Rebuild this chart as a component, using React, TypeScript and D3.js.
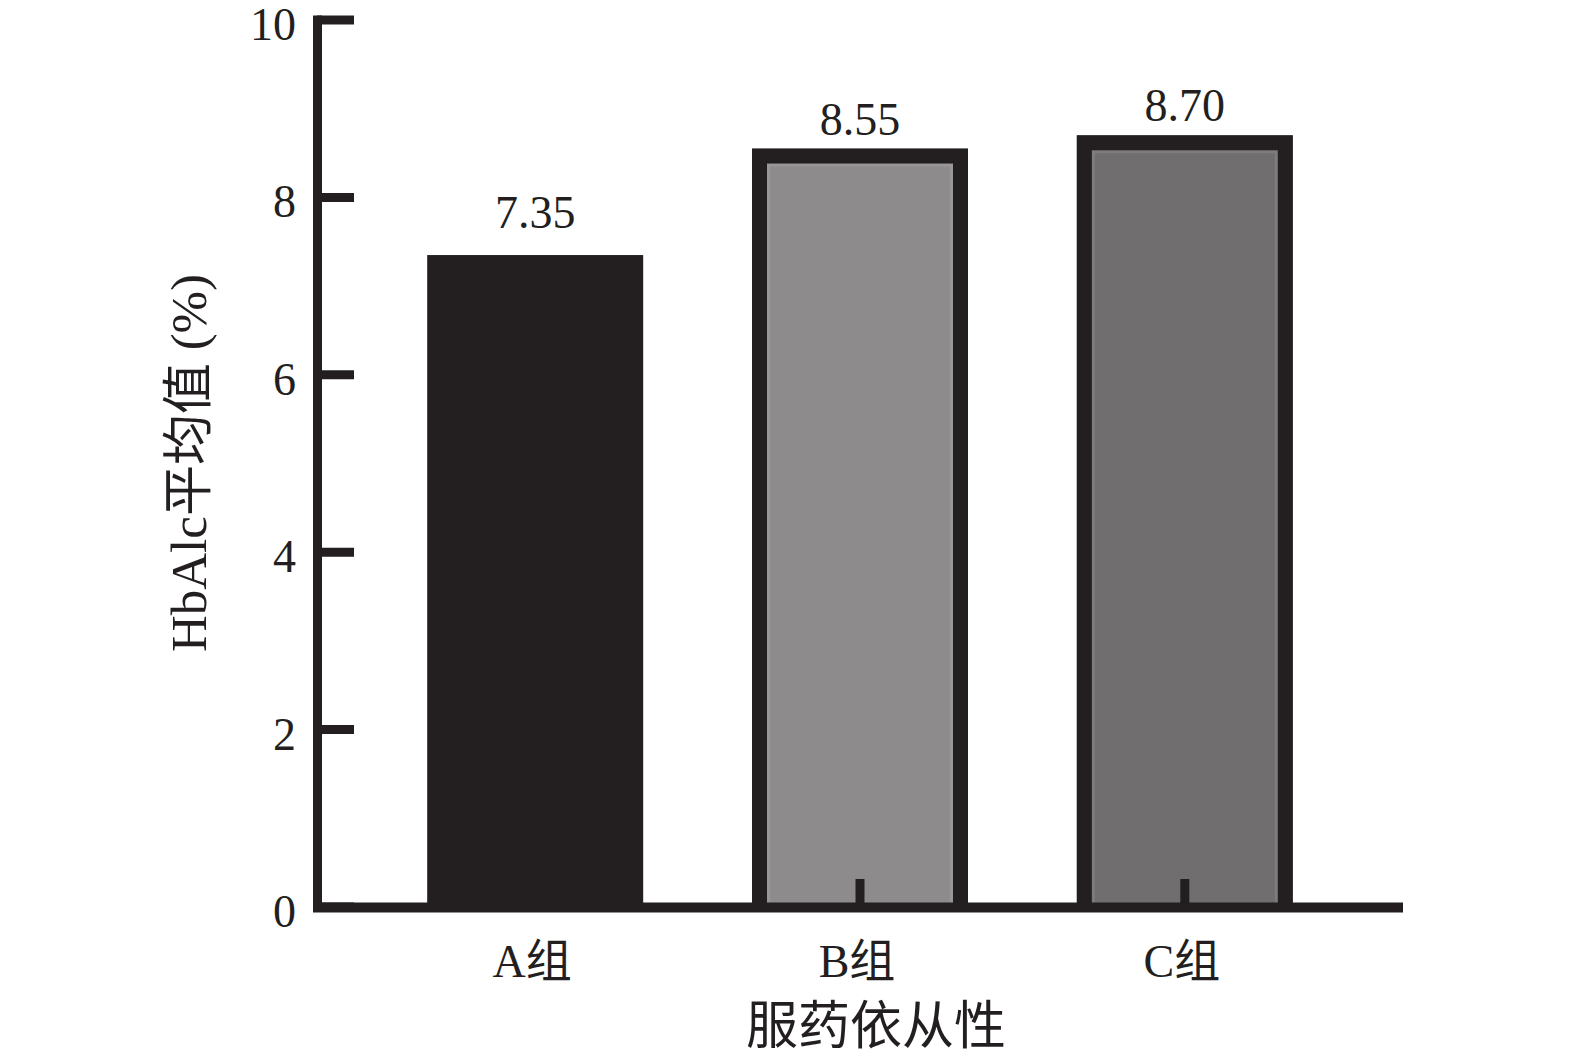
import React from "react";
import * as d3 from "d3";

const categories = ["A组", "B组", "C组"];
const values = [7.35, 8.55, 8.7];
const valueLabels = ["7.35", "8.55", "8.70"];
const fills = ["#231f20", "#8d8b8c", "#706e6f"];
const bordered = [false, true, true];
const yTicks = [0, 2, 4, 6, 8, 10];
const yTitle = "HbAlc平均值 (%)";
const xTitle = "服药依从性";

const W = 1575;
const H = 1058;
const ink = "#231f20";
const serif = "'Liberation Serif', 'Times New Roman', 'Noto Sans CJK SC', serif";

export default function App() {
  const y = d3.scaleLinear().domain([0, 10]).range([907, 20]);
  const x = d3
    .scaleBand<string>()
    .domain(categories)
    .range([320, 1400])
    .paddingInner(0.335)
    .paddingOuter(0.33);
  const sw = 15;
  return (
    <div style={{ margin: -8 }}>
      <svg width={W} height={H} style={{ display: "block", background: "#fff" }}>
        {/* bars */}
        {categories.map((c, i) => {
          const x0 = x(c)!;
          const bw = x.bandwidth();
          const top = y(values[i]);
          const bot = y(0);
          if (!bordered[i]) {
            return <rect key={c} x={x0} y={top} width={bw} height={bot - top} fill={fills[i]} />;
          }
          const h = sw / 2;
          const outline = d3.path();
          outline.moveTo(x0 + h, bot);
          outline.lineTo(x0 + h, top + h);
          outline.lineTo(x0 + bw - h, top + h);
          outline.lineTo(x0 + bw - h, bot);
          const g = sw + 1.5;
          const glow = d3.path();
          glow.moveTo(x0 + g, bot);
          glow.lineTo(x0 + g, top + g);
          glow.lineTo(x0 + bw - g, top + g);
          glow.lineTo(x0 + bw - g, bot);
          return (
            <g key={c}>
              <rect x={x0} y={top} width={bw} height={bot - top} fill={fills[i]} />
              <path d={glow.toString()} fill="none" stroke="#ffffff" strokeOpacity={0.1} strokeWidth={3} />
              <path
                d={outline.toString()}
                fill="none"
                stroke={ink}
                strokeWidth={sw}
                strokeLinejoin="miter"
              />
            </g>
          );
        })}
        {/* x ticks (inward) */}
        {categories.map((c) => (
          <line
            key={"xt" + c}
            x1={x(c)! + x.bandwidth() / 2}
            x2={x(c)! + x.bandwidth() / 2}
            y1={y(0)}
            y2={y(0) - 28}
            stroke={ink}
            strokeWidth={9}
          />
        ))}
        {/* axes */}
        <line x1={317.5} x2={317.5} y1={15.5} y2={912} stroke={ink} strokeWidth={9} />
        <line x1={313} x2={1403} y1={907.5} y2={907.5} stroke={ink} strokeWidth={10} />
        {yTicks.map((t) => (
          <g key={"yt" + t}>
            <line x1={317} x2={354} y1={y(t)} y2={y(t)} stroke={ink} strokeWidth={9} />
            <text
              x={296}
              y={y(t) + 20}
              textAnchor="end"
              fontFamily={serif}
              fontSize={46}
              fill={ink}
            >
              {t}
            </text>
          </g>
        ))}
        {/* value labels */}
        {categories.map((c, i) => (
          <text
            key={"vl" + c}
            x={x(c)! + x.bandwidth() / 2}
            y={y(values[i]) - (bordered[i] ? 14 : 27)}
            textAnchor="middle"
            fontFamily={serif}
            fontSize={46}
            fill={ink}
          >
            {valueLabels[i]}
          </text>
        ))}
        {/* category labels */}
        {categories.map((c) => (
          <text
            key={"cl" + c}
            x={x(c)! + x.bandwidth() / 2 - 3}
            y={977}
            textAnchor="middle"
            fontFamily={serif}
            fontSize={46}
            fill={ink}
          >
            {c}
          </text>
        ))}
        <text x={876} y={1044} textAnchor="middle" fontFamily={serif} fontSize={52} fill={ink}>
          {xTitle}
        </text>
        <text
          transform={`translate(206,463) rotate(-90)`}
          textAnchor="middle"
          fontFamily={serif}
          fontSize={51}
          fill={ink}
        >
          {yTitle}
        </text>
      </svg>
    </div>
  );
}
